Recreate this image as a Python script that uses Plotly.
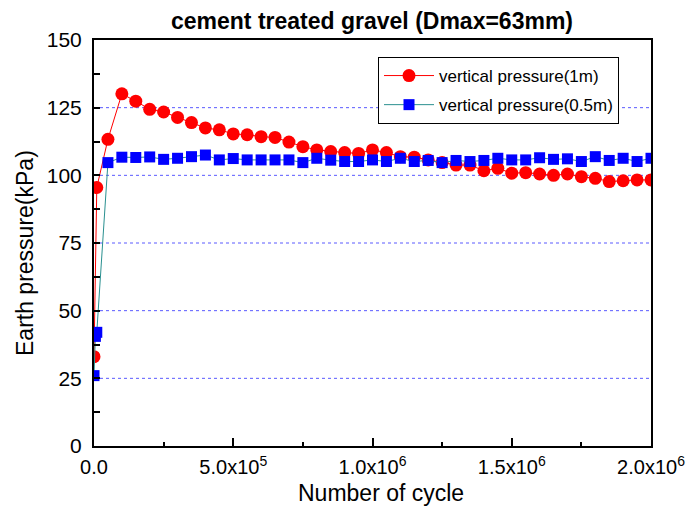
import plotly.graph_objects as go

# Red series: vertical pressure (1m)
x_red = [0, 10000] + [i * 50000 for i in range(1, 41)]
y_red = [33.0, 95.5,
         113.3, 130.1, 127.4, 124.4, 123.4, 121.4, 119.5, 117.5, 116.8, 115.3,
         115.0, 114.3, 114.0, 112.3, 110.6, 109.4, 108.8, 108.4, 108.1, 109.4,
         108.4, 106.9, 106.7, 105.7, 104.7, 103.8, 103.8, 101.7, 102.6, 100.8,
         101.0, 100.5, 100.0, 100.5, 99.5, 98.9, 97.7, 98.0, 98.3, 98.3]

# Blue series: vertical pressure (0.5m)
x_blue = [0, 5000, 10000] + [i * 50000 for i in range(1, 41)]
y_blue = [26.0, 40.5, 42.0,
          104.7, 106.7, 106.6, 106.8, 105.9, 106.3, 106.9, 107.5, 105.7, 106.2,
          105.7, 105.7, 105.7, 105.7, 104.7, 106.3, 105.6, 105.1, 105.1, 105.7,
          105.1, 106.3, 105.1, 105.5, 104.7, 105.5, 105.1, 105.5, 106.3, 105.7,
          105.7, 106.5, 105.9, 106.1, 105.1, 106.9, 105.5, 106.3, 105.1, 106.3]

x_tickvals = [0, 500000, 1000000, 1500000, 2000000]
x_ticktext = ["0.0", "5.0x10<sup>5</sup>", "1.0x10<sup>6</sup>",
              "1.5x10<sup>6</sup>", "2.0x10<sup>6</sup>"]
y_tickvals = [0, 25, 50, 75, 100, 125, 150]
grid_vals = [25, 50, 75, 100, 125]

FONT = "Liberation Sans, Arial, sans-serif"

fig = go.Figure()
fig.add_trace(go.Scatter(
    x=x_red, y=y_red, mode="lines+markers", name="vertical pressure(1m)",
    legendgroup="a",
    line=dict(color="#ff0000", width=1),
    marker=dict(symbol="circle", size=13, color="#ff0000"),
))
fig.add_trace(go.Scatter(
    x=x_blue, y=y_blue, mode="lines+markers", name="vertical pressure(0.5m)",
    legendgroup="b",
    line=dict(color="#2a9090", width=1),
    marker=dict(symbol="square", size=11, color="#0000ff"),
))

for g in grid_vals:
    fig.add_shape(type="line", xref="paper", yref="y", x0=0, x1=1, y0=g, y1=g,
                  line=dict(color="#5a5aff", width=1, dash="dot"), layer="below")

fig.add_annotation(text="Number of cycle", xref="paper", yref="paper",
                   x=(381 - 94) / 557, y=(446 - 493) / 406, showarrow=False,
                   xanchor="center", yanchor="middle", font=dict(size=23, family=FONT))
fig.add_annotation(text="Earth pressure(kPa)", xref="paper", yref="paper",
                   x=(25 - 94) / 557, y=(446 - 253) / 406, showarrow=False, textangle=-90,
                   xanchor="center", yanchor="middle", font=dict(size=23, family=FONT))

fig.update_layout(
    width=689, height=509,
    margin=dict(l=94, r=38, t=40, b=63),
    paper_bgcolor="white", plot_bgcolor="white",
    font=dict(family=FONT, color="black"),
    title=dict(text="<b>cement treated gravel (Dmax=63mm)</b>", x=372 / 689, xanchor="center",
               y=1 - 21 / 509, yanchor="middle", font=dict(size=23)),
    showlegend=True,
    legend=dict(x=(378 - 94) / 557, y=(446 - 57) / 406, xanchor="left", yanchor="top",
                bordercolor="black", borderwidth=1, bgcolor="white",
                font=dict(size=17), tracegroupgap=4, itemwidth=50),
    xaxis=dict(range=[0, 2000000], tickvals=x_tickvals, ticktext=x_ticktext,
               showgrid=False, zeroline=False, showline=True, linecolor="black",
               linewidth=2, mirror=True, ticks="inside", ticklen=8, tickwidth=1.5,
               tickcolor="black", tickfont=dict(size=20), automargin=False,
               ticklabelstandoff=2,
               minor=dict(ticks="inside", dtick=250000, ticklen=4, tickwidth=1.5, tickcolor="black")),
    yaxis=dict(range=[0, 150], tickvals=y_tickvals,
               showgrid=False, zeroline=False, showline=True, linecolor="black",
               linewidth=2, mirror=True, ticks="inside", ticklen=6, tickwidth=1.5,
               tickcolor="black", tickfont=dict(size=21), automargin=False,
               ticklabelstandoff=6,
               minor=dict(ticks="inside", dtick=12.5, ticklen=6, tickwidth=1.5, tickcolor="black")),
)

fig.write_html("out.html")
